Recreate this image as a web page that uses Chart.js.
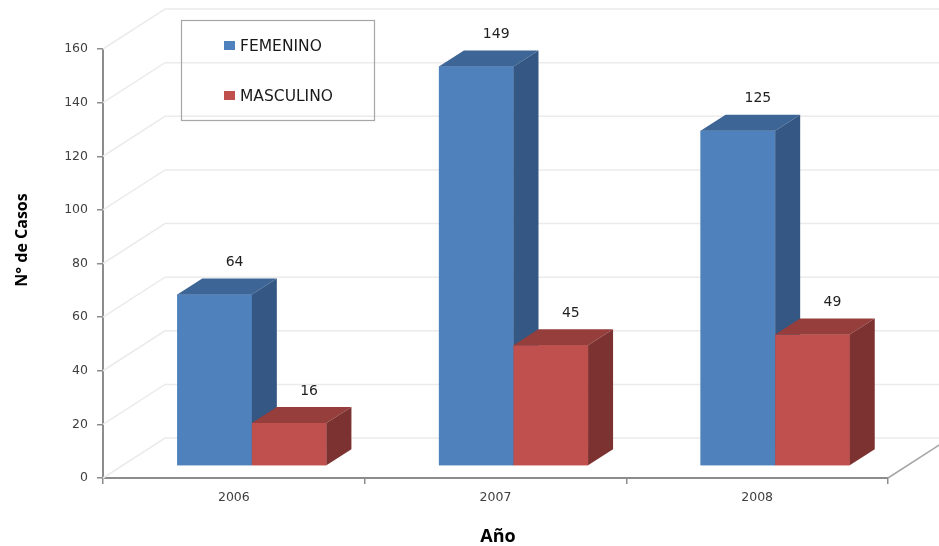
<!DOCTYPE html>
<html>
<head>
<meta charset="utf-8">
<script src="https://cdn.jsdelivr.net/npm/chart.js@4.4.1/dist/chart.umd.min.js"></script>
<style>
  html, body { margin: 0; padding: 0; background: #ffffff; }
  #wrap { width: 939px; height: 546px; }
</style>
</head>
<body>
<div id="wrap"><canvas id="c" width="939" height="546"></canvas></div>
<script>
// Cases per year, by sex
const years = ['2006', '2007', '2008'];
const femenino = [64, 149, 125];
const masculino = [16, 45, 49];
const seriesNames = ['FEMENINO', 'MASCULINO'];
const yMin = 0, yMax = 160, yStep = 20;

// Face colours: front, top, right side
const FRONT = ['#4F81BD', '#C0504D'];
const TOP   = ['#3D6595', '#953E3C'];
const SIDE  = ['#345783', '#7B3230'];

// Perspective offsets (pixels)
const WALL = { dx: 62, dy: -40 };       // back wall behind the front axis
const BAR_SHIFT = { dx: 18, dy: -12 };  // bars stand a little way into the floor
const BAR_DEPTH = { dx: 25, dy: -16 };  // thickness of each column

function drawFaces(ctx, bar, i) {
  const dx = BAR_DEPTH.dx, dy = BAR_DEPTH.dy;
  const { x, y, base, width } = bar.getProps(['x', 'y', 'base', 'width'], true);
  const l = x - width / 2, r = x + width / 2;
  ctx.fillStyle = TOP[i];
  ctx.beginPath();
  ctx.moveTo(l, y);
  ctx.lineTo(l + dx, y + dy);
  ctx.lineTo(r + dx, y + dy);
  ctx.lineTo(r, y);
  ctx.closePath();
  ctx.fill();
  ctx.fillStyle = SIDE[i];
  ctx.beginPath();
  ctx.moveTo(r, y);
  ctx.lineTo(r + dx, y + dy);
  ctx.lineTo(r + dx, base + dy);
  ctx.lineTo(r, base);
  ctx.closePath();
  ctx.fill();
}

const box3d = {
  id: 'box3d',
  beforeDatasetsDraw(chart) {
    const { ctx, chartArea: a, scales: { y } } = chart;
    ctx.save();
    // side wall, back wall and floor lines
    ctx.lineWidth = 1.5;
    ctx.strokeStyle = '#ebebeb';
    y.ticks.forEach(t => {
      const py = y.getPixelForValue(t.value);
      ctx.beginPath();
      ctx.moveTo(a.left, py);
      ctx.lineTo(a.left + WALL.dx, py + WALL.dy);
      ctx.lineTo(chart.width, py + WALL.dy);
      ctx.stroke();
    });
    // right edge of the floor
    ctx.strokeStyle = '#a6a6a6';
    ctx.beginPath();
    ctx.moveTo(a.right, a.bottom);
    ctx.lineTo(a.right + WALL.dx, a.bottom + WALL.dy);
    ctx.stroke();
    ctx.restore();

    // columns are drawn in the shifted frame
    ctx.save();
    ctx.translate(BAR_SHIFT.dx, BAR_SHIFT.dy);
  },
  afterDatasetsDraw(chart) {
    const ctx = chart.ctx;
    // paint the columns left to right, each series over the one before it
    chart.data.datasets.forEach((ds, i) => {
      chart.getDatasetMeta(i).data.forEach(bar => {
        bar.draw(ctx);
        drawFaces(ctx, bar, i);
      });
    });
    // value labels above each column
    ctx.font = '14px "DejaVu Sans"';
    ctx.fillStyle = '#1f1f1f';
    ctx.textAlign = 'center';
    ctx.textBaseline = 'middle';
    chart.data.datasets.forEach((ds, i) => {
      chart.getDatasetMeta(i).data.forEach((bar, j) => {
        ctx.fillText(String(ds.data[j]), bar.x + 20, bar.y + BAR_DEPTH.dy - 16);
      });
    });
    ctx.restore();
  },
  afterDraw(chart) {
    const ctx = chart.ctx;
    ctx.save();
    // legend
    ctx.strokeStyle = '#a6a6a6';
    ctx.lineWidth = 1.2;
    ctx.strokeRect(181.5, 20.5, 193, 100);
    ctx.font = '15.5px "DejaVu Sans"';
    ctx.textAlign = 'left';
    ctx.textBaseline = 'middle';
    chart.data.datasets.forEach((ds, i) => {
      const cy = 46 + i * 50;
      ctx.fillStyle = ds.backgroundColor;
      ctx.fillRect(224, cy - 5, 11, 9);
      ctx.fillStyle = '#1a1a1a';
      ctx.fillText(ds.label, 240, cy + 1);
    });
    // axis titles
    ctx.fillStyle = '#000000';
    ctx.font = 'bold 16px "Open Sans"';
    ctx.textAlign = 'center';
    ctx.save();
    ctx.translate(22, 240);
    ctx.rotate(-Math.PI / 2);
    ctx.fillText('N° de Casos', 0, 0);
    ctx.restore();
    ctx.font = 'bold 18px "Open Sans"';
    ctx.fillText('Año', 498, 537);
    ctx.restore();
  }
};

new Chart(document.getElementById('c'), {
  type: 'bar',
  data: {
    labels: years,
    datasets: [
      { label: seriesNames[0], data: femenino, backgroundColor: FRONT[0], borderWidth: 0,
        barPercentage: 1, categoryPercentage: 0.57, clip: false },
      { label: seriesNames[1], data: masculino, backgroundColor: FRONT[1], borderWidth: 0,
        barPercentage: 1, categoryPercentage: 0.57, clip: false }
    ]
  },
  options: {
    responsive: false,
    animation: false,
    devicePixelRatio: 1,
    layout: { padding: { top: 49, right: 51, left: 0, bottom: 0 } },
    plugins: { legend: { display: false }, tooltip: { enabled: false } },
    scales: {
      x: {
        offset: true,
        grid: { display: true, drawOnChartArea: false, drawTicks: true, tickLength: 6,
                offset: true, color: '#8c8c8c', lineWidth: 1.5 },
        border: { display: true, color: '#8c8c8c', width: 2 },
        ticks: { font: { family: 'DejaVu Sans', size: 12.5 }, color: '#404040', padding: 6, maxRotation: 0 },
        afterFit(s) { s.height = 68; }
      },
      y: {
        min: yMin, max: yMax,
        grid: { display: true, drawOnChartArea: false, drawTicks: true, tickLength: 6,
                color: '#8c8c8c', lineWidth: 1.5 },
        border: { display: true, color: '#8c8c8c', width: 2 },
        ticks: { stepSize: yStep, font: { family: 'DejaVu Sans', size: 12.5 }, color: '#404040', padding: 9 },
        afterFit(s) { s.width = 103; }
      }
    }
  },
  plugins: [box3d]
});
</script>
</body>
</html>
